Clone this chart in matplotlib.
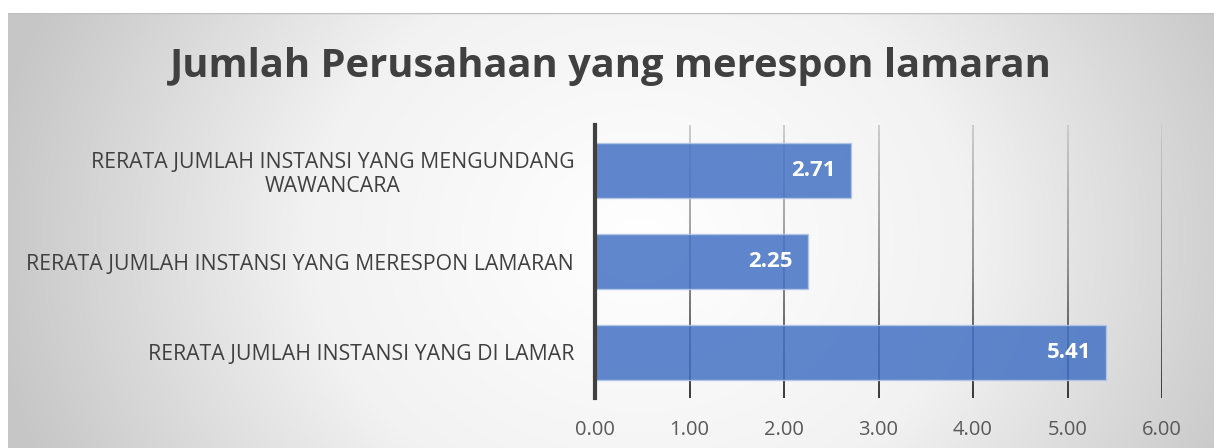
import numpy as np
import matplotlib.pyplot as plt
from matplotlib.collections import LineCollection
from matplotlib.colors import LinearSegmentedColormap

# data
categories = ['RERATA JUMLAH INSTANSI YANG DI LAMAR',
              'RERATA JUMLAH INSTANSI YANG MERESPON LAMARAN',
              'RERATA JUMLAH INSTANSI YANG MENGUNDANG\nWAWANCARA']
values = [5.41, 2.25, 2.71]
xticks = [0, 1, 2, 3, 4, 5, 6]
title = 'Jumlah Perusahaan yang merespon lamaran'

W, H = 1214, 448
fig = plt.figure(figsize=(W / 100, H / 100), dpi=100)
fig.patch.set_facecolor('white')
plt.rcParams['font.family'] = ['Open Sans', 'DejaVu Sans']

# chart area background with radial gradient
bg = fig.add_axes([8 / W, 0, 1 - 8 / W, (H - 13) / H], zorder=0)
gx, gy = np.meshgrid(np.linspace(8, 1300, 600), np.linspace(13, 520, 300))
r = np.sqrt(((gx - 640) / 660) ** 2 + ((gy - 240) / 560) ** 2)
r = np.clip(r, 0, 1)
bg_cmap = LinearSegmentedColormap.from_list('bg', ['#ffffff', '#f2f2f2', '#c6c6c6'])
bg.imshow(r, cmap=bg_cmap, vmin=0, vmax=1, aspect='auto',
          extent=[8, 1300, 520, 13], interpolation='bilinear')
bg.set_xlim(8, W)
bg.set_ylim(H, 13)
bg.axis('off')
bg.plot([8, W], [13.5, 13.5], color='#bfbfbf', lw=1)

# plot area
x0, x1 = 595, 1162
y0, y1 = 125, 398
ax = fig.add_axes([x0 / W, 1 - y1 / H, (x1 - x0) / W, (y1 - y0) / H], zorder=1)
ax.patch.set_alpha(0)
ax.set_xlim(0, 6)
ax.set_ylim(-0.5, 2.5)

# gradient gridlines, light at top, dark at bottom
grid_cmap = LinearSegmentedColormap.from_list('grid', ['#c8c8c8', '#8a8a8a', '#2a2a2a'])
n = 40
ys = np.linspace(-0.5, 2.5, n + 1)
for xv in xticks[1:]:
    segs = [[(xv, ys[i]), (xv, ys[i + 1])] for i in range(n)]
    cols = grid_cmap(np.linspace(1, 0, n))
    ax.add_collection(LineCollection(segs, colors=cols, linewidths=1.3, zorder=1))

ypos = np.arange(len(categories))
bars = ax.barh(ypos, values, height=0.6, color='#4472c4', alpha=0.85,
               edgecolor='#b4c7e7', linewidth=1, zorder=2)
for yv, v in zip(ypos, values):
    ax.annotate(f'{v:.2f}', xy=(v, yv), xytext=(-11, 0), textcoords='offset points',
                ha='right', va='center', color='white', fontsize=16,
                fontweight='bold', zorder=3)

ax.set_yticks(ypos)
ax.set_yticklabels(categories, fontsize=15.3, color='#404040', multialignment='center')
ax.set_xticks(xticks)
ax.set_xticklabels([f'{t:.2f}' for t in xticks], fontsize=14.5, color='#595959')
ax.tick_params(axis='y', length=0, pad=15)
ax.tick_params(axis='x', length=0, pad=16)
for s in ['top', 'right', 'bottom']:
    ax.spines[s].set_visible(False)
ax.spines['left'].set_color('#404040')
ax.spines['left'].set_linewidth(3)
ax.spines['left'].set_zorder(4)

fig.text(611 / W, 1 - 67 / H, title, ha='center', va='center',
         fontsize=28.7, fontweight='bold', color='#404040')

fig.savefig('out.png', dpi=100)
